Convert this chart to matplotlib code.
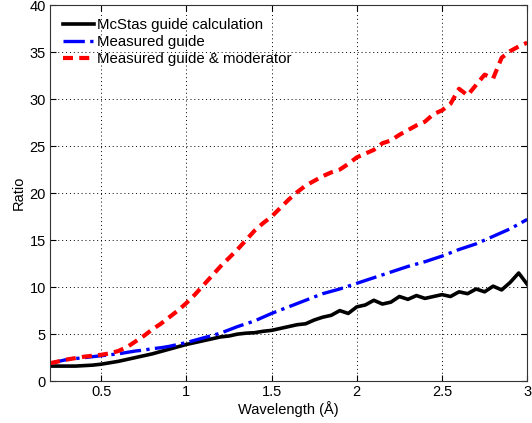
import numpy as np
import matplotlib
matplotlib.use("Agg")
import matplotlib.pyplot as plt

plt.rcParams['font.family'] = ['Liberation Sans', 'DejaVu Sans']

# === DATA ===
wavelength = np.round(np.arange(0.2, 3.0001, 0.05), 2)

mcstas = [1.6, 1.6, 1.6, 1.6, 1.65, 1.7, 1.8, 1.95, 2.1, 2.3,
          2.5, 2.7, 2.9, 3.15, 3.4, 3.65, 3.9, 4.1, 4.3, 4.5,
          4.7, 4.8, 5.0, 5.1, 5.15, 5.3, 5.4, 5.6, 5.8, 6.0,
          6.1, 6.5, 6.8, 7.0, 7.5, 7.2, 7.9, 8.1, 8.6, 8.2,
          8.4, 9.0, 8.7, 9.1, 8.8, 9.0, 9.2, 9.0, 9.5, 9.3,
          9.8, 9.5, 10.1, 9.7, 10.5, 11.5, 10.3]

measured_guide = [1.9, 2.1, 2.3, 2.4, 2.5, 2.6, 2.7, 2.8, 2.9, 3.05,
                  3.2, 3.3, 3.45, 3.55, 3.7, 3.9, 4.1, 4.35, 4.6, 4.85,
                  5.1, 5.45, 5.8, 6.1, 6.4, 6.8, 7.2, 7.55, 7.9, 8.25,
                  8.6, 8.95, 9.3, 9.55, 9.8, 10.1, 10.4, 10.7, 11.0, 11.3,
                  11.6, 11.9, 12.2, 12.45, 12.7, 13.0, 13.3, 13.65, 14.0, 14.3,
                  14.6, 15.0, 15.4, 15.8, 16.2, 16.7, 17.2]

guide_moderator = [1.9, 2.1, 2.3, 2.45, 2.6, 2.7, 2.8, 2.95, 3.2, 3.6,
                   4.2, 4.8, 5.5, 6.1, 6.8, 7.5, 8.3, 9.2, 10.2, 11.2,
                   12.2, 13.1, 14.0, 15.0, 16.0, 16.8, 17.5, 18.4, 19.3, 20.1,
                   20.8, 21.3, 21.8, 22.2, 22.5, 23.1, 23.8, 24.2, 24.6, 25.3,
                   25.6, 26.2, 26.7, 27.2, 27.6, 28.4, 28.8, 29.5, 31.1, 30.4,
                   31.5, 32.6, 32.2, 34.4, 35.1, 35.6, 36.0]

# === PLOT ===
fig = plt.figure(figsize=(5.32, 4.23), dpi=100)
ax = fig.add_axes([0.094, 0.099, 0.897, 0.889])

ax.plot(wavelength, mcstas, color="black", lw=2.6, ls="-",
        label="McStas guide calculation")
ax.plot(wavelength, measured_guide, color="blue", lw=2.4, ls="-.",
        label="Measured guide")
ax.plot(wavelength, guide_moderator, color="red", lw=3.0, ls="--",
        dashes=(2.4, 1.5), label="Measured guide & moderator")

ax.set_xlim(0.2, 3.0)
ax.set_ylim(0, 40)
ax.set_xticks([0.5, 1, 1.5, 2, 2.5, 3])
ax.set_xticklabels(["0.5", "1", "1.5", "2", "2.5", "3"])
ax.set_yticks(range(0, 41, 5))
ax.grid(True, color="black", ls=(0, (1, 3)), lw=0.7)
ax.tick_params(direction="in", top=True, right=True, labelsize=10.5, length=4, pad=3)
for s in ax.spines.values():
    s.set_color("#333333")
    s.set_linewidth(0.8)

ax.set_xlabel("Wavelength (Å)", fontsize=10.5, labelpad=1)
ax.set_ylabel("Ratio", fontsize=10.5, labelpad=3)

ax.legend(loc="upper left", frameon=False, fontsize=10.8, handlelength=2.1,
          handletextpad=0.15, labelspacing=0.2, borderaxespad=0.45,
          borderpad=0.4)

fig.savefig("out.png", dpi=100)
